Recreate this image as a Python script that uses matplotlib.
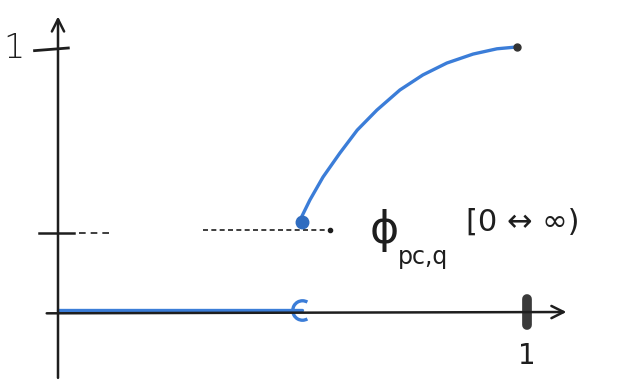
import matplotlib.pyplot as plt
from matplotlib.path import Path
import numpy as np

# sketch values (x in [0, 1], y normalised so the top tick is 1)
jump_x = 0.52
phi_level = 0.31
flat_x = [0.0, 0.52]
flat_y = [0.0, 0.0]
curve_x = [0.516, 0.537, 0.565, 0.601, 0.638, 0.680, 0.729, 0.778, 0.829, 0.885, 0.936, 0.979]
curve_y = [0.348, 0.424, 0.511, 0.602, 0.689, 0.765, 0.841, 0.898, 0.943, 0.977, 0.997, 1.004]
x_tick_labels = ['1']
y_tick_labels = ['1']

blue = '#3b7dd8'
ink = '#1e1e1e'

fig = plt.figure(figsize=(6.24, 3.81), dpi=100)
ax = fig.add_axes([0, 0, 1, 1])
ax.set_xlim(-58 / 469, 566 / 469)
ax.set_ylim(-69 / 264, 312 / 264)
ax.axis('off')

# axes with arrow heads
ax.annotate('', xy=(1.09, 0.0), xytext=(-0.03, -0.005),
            arrowprops=dict(arrowstyle='->', color=ink, lw=1.8, mutation_scale=22))
ax.annotate('', xy=(0.0, 1.13), xytext=(0.0, -0.26),
            arrowprops=dict(arrowstyle='->', color=ink, lw=1.8, mutation_scale=22))

# ticks
ax.plot([-0.05, 0.022], [0.99, 1.0], color=ink, lw=2)
ax.plot([-0.04, 0.035], [phi_level - 0.01, phi_level - 0.01], color=ink, lw=1.8)
ax.plot([1.0, 1.0], [-0.05, 0.05], color='#3a3a3a', lw=7, solid_capstyle='round')
ax.text(1.0, -0.165, x_tick_labels[0], ha='center', va='center', fontsize=20, color=ink)
ax.text(-0.095, 1.0, y_tick_labels[0], ha='center', va='center', fontsize=24,
        color=ink, fontweight='light')

# dashed guide at the jump level
ax.plot([0.045, 0.11], [phi_level - 0.01, phi_level - 0.01], color=ink, lw=1.2,
        linestyle=(0, (4, 3)))
ax.plot([0.31, 0.58], [phi_level, phi_level], color=ink, lw=1.2,
        linestyle=(0, (3, 2)))
ax.plot([0.58], [phi_level], 'o', color=ink, ms=3)

# function: flat part on the axis, then jump and rise
ax.plot(flat_x, np.array(flat_y) + 0.006, color=blue, lw=2.4, solid_capstyle='round')
ax.plot(curve_x, curve_y, color=blue, lw=2.4, solid_capstyle='round')

# open end at the jump (left-half arc)
arc = Path.arc(60, 300)
ax.plot([jump_x], [0.006], marker=arc, ms=14, mfc='none', mec=blue, mew=2.4)
ax.plot([jump_x], [0.34], 'o', color='#2f6cc0', ms=9)
ax.plot([curve_x[-1]], [curve_y[-1]], 'o', color='#333333', ms=5)

ax.text(0.665, 0.31, '\u03d5', fontsize=32, color=ink, va='center')
ax.text(0.725, 0.21, 'pc,q', fontsize=17, color=ink, va='center')
ax.text(0.87, 0.34, '[0 \u2194 \u221e)', fontsize=22, color=ink, va='center',
        family=['DejaVu Sans'])

fig.savefig('out.png', dpi=100)
